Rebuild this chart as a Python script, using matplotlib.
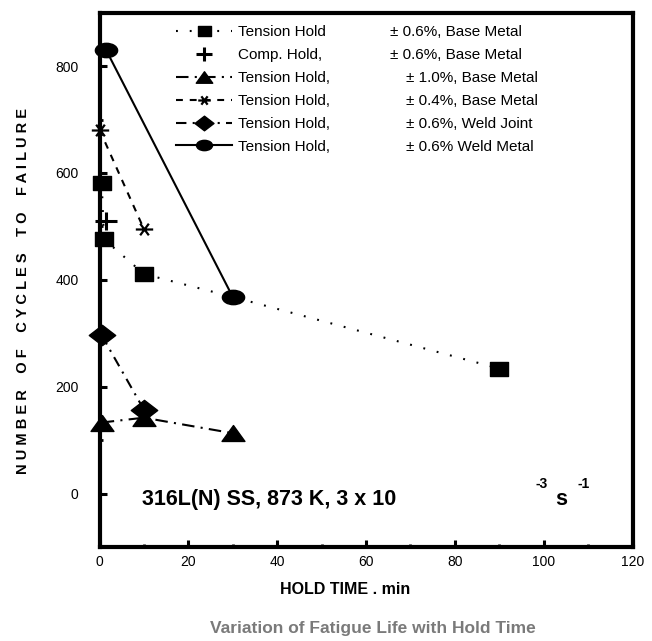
import matplotlib
matplotlib.use('Agg')
import matplotlib.pyplot as plt
from matplotlib.path import Path
from matplotlib.lines import Line2D

plt.rcParams['font.family'] = ['Liberation Sans', 'DejaVu Sans']

# tension hold, +-0.6%, base metal (squares); the 30 min point sits under the weld metal circle
tb06_time = [0.5, 1, 10, 30, 90]
tb06_cycles = [582, 476, 411, 368, 234]
# compression hold, +-0.6%, base metal
cb06_time = [1.5]
cb06_cycles = [511]
# tension hold, +-1.0%, base metal
tb10_time = [0.5, 10, 30]
tb10_cycles = [133, 142, 113]
# tension hold, +-0.4%, base metal
tb04_time = [0, 10]
tb04_cycles = [681, 495]
# tension hold, +-0.6%, weld joint
wj06_time = [0.5, 10]
wj06_cycles = [296, 157]
# tension hold, +-0.6%, weld metal
wm06_time = [1.5, 30]
wm06_cycles = [830, 368]

col1_labels = ['Tension Hold', 'Comp. Hold,', 'Tension Hold,', 'Tension Hold,',
               'Tension Hold,', 'Tension Hold,']
col2_labels = ['\u00b1 0.6%, Base Metal', '\u00b1 0.6%, Base Metal', '\u00b1 1.0%, Base Metal',
               '\u00b1 0.4%, Base Metal', '\u00b1 0.6%, Weld Joint', '\u00b1 0.6% Weld Metal']

M, L, C = Path.MOVETO, Path.LINETO, Path.CLOSEPOLY
# the source picture is stretched sideways, so are its markers
SQUARE = Path([(-1.3, -1), (1.3, -1), (1.3, 1), (-1.3, 1), (-1.3, -1)], [M, L, L, L, C])
_uc = Path.unit_circle()
CIRCLE = Path(_uc.vertices * [1.55, 1.0], _uc.codes)
DIAMOND = Path([(0, -1), (1.3, 0), (0, 1), (-1.3, 0), (0, -1)], [M, L, L, L, C])
TRIANGLE = Path([(-1.44, -1), (1.44, -1), (0, 1), (-1.44, -1)], [M, L, L, C])
PLUS = Path([(-1.2, 0), (1.2, 0), (0, -1), (0, 1)], [M, L, M, L])
ASTER = Path([(-1.3, 0), (1.3, 0), (-0.65, -0.87), (0.65, 0.87), (-0.65, 0.87), (0.65, -0.87)],
             [M, L, M, L, M, L])

W, H = 652, 641
fig = plt.figure(figsize=(W / 100, H / 100), dpi=100)
ax = fig.add_axes([99.5 / W, 1 - 547 / H, 533 / W, 534.3 / H])

styles = [
    dict(ls=(0, (0.9, 5.7)), marker=SQUARE, ms=13),
    dict(ls='none', marker=PLUS, ms=16, mew=2.2, mfc='none'),
    dict(ls=(0, (6, 3, 1, 3)), marker=TRIANGLE, ms=16.5),
    dict(ls=(0, (3.3, 3.3)), marker=ASTER, ms=12.5, mew=1.6, mfc='none'),
    dict(ls=(0, (5, 3, 1, 3)), marker=DIAMOND, ms=19),
    dict(ls='-', marker=CIRCLE, ms=16),
]

series = [(tb06_time, tb06_cycles), (cb06_time, cb06_cycles), (tb10_time, tb10_cycles),
          (tb04_time, tb04_cycles), (wj06_time, wj06_cycles), (wm06_time, wm06_cycles)]

for i, ((x, y), st) in enumerate(zip(series, styles)):
    st = dict(st)
    mk = dict(marker=st.pop('marker'), ms=st.pop('ms'), mew=st.pop('mew', 1),
              mfc=st.pop('mfc', 'black'), mec='black')
    ls = st.pop('ls')
    if ls != 'none':
        ax.plot(x, y, ls=ls, color='black', lw=1.5, clip_on=False, zorder=3)
    if i == 0:
        # no square drawn at the 30 min point
        ax.plot([v for k, v in enumerate(x) if k != 3], [v for k, v in enumerate(y) if k != 3],
                ls='none', clip_on=False, zorder=4, **mk)
    else:
        ax.plot(x, y, ls='none', clip_on=False, zorder=4, **mk)

handles = []
for st in styles:
    st = dict(st)
    handles.append(Line2D([], [], color='black', lw=1.5, ls=st.pop('ls'), marker=st.pop('marker'),
                          ms=st.pop('ms'), mew=st.pop('mew', 1), mfc=st.pop('mfc', 'black'),
                          mec='black'))

leg = ax.legend(handles, col1_labels, loc='upper left', bbox_to_anchor=(176 / W, 1 - 25.5 / H),
                bbox_transform=fig.transFigure, frameon=False, fontsize=11, handlelength=3.66,
                handletextpad=0.4, borderpad=0, borderaxespad=0, labelspacing=0.58,
                markerscale=0.72)

ax.set_xlim(0, 120)
ax.set_ylim(-100, 900)
ax.set_xticks(range(0, 121, 20))
ax.set_xticks(range(10, 120, 20), minor=True)
ax.set_yticks(range(0, 801, 200))
ax.set_yticks([100, 300, 500, 700], minor=True)
ax.tick_params(which='both', direction='in', top=False, right=False, labelsize=10)
ax.tick_params(which='major', length=5, width=2.2)
ax.tick_params(which='minor', length=2.5, width=2)
ax.tick_params(axis='y', pad=15)
ax.tick_params(axis='x', pad=6)
for sp in ax.spines.values():
    sp.set_linewidth(3)

fig.text(23 / W, 1 - 291.5 / H,
         'N U M B E R    O F    C Y C L E S    T O    F A I L U R E',
         rotation=90, ha='center', va='center', fontsize=10.5, fontweight='bold')
fig.text(345.5 / W, 1 - 590 / H, 'HOLD TIME . min', ha='center', va='center',
         fontsize=11.5, fontweight='bold')
fig.text(373 / W, 1 - 629 / H, 'Variation of Fatigue Life with Hold Time', ha='center',
         va='center', fontsize=12.5, fontweight='bold', color='#7a7a7a')

fig.text(141.7 / W, 1 - 505 / H, '316L(N) SS, 873 K, 3 x 10', ha='left', va='baseline',
         fontsize=15.5, fontweight='bold')
fig.text(535 / W, 1 - 488 / H, '-3', ha='left', va='baseline', fontsize=10, fontweight='bold')
fig.text(555 / W, 1 - 505 / H, 's', ha='left', va='baseline', fontsize=15.5, fontweight='bold')
fig.text(577 / W, 1 - 488 / H, '-1', ha='left', va='baseline', fontsize=10, fontweight='bold')

# second legend column, lined up with the legend rows
fig.canvas.draw()
col2_x = [390, 390, 406, 406, 406, 406]
for txt, lab, x in zip(leg.get_texts(), col2_labels, col2_x):
    bb = txt.get_window_extent()
    fig.text(x / W, (bb.y0 + bb.y1) / 2 / H, lab, ha='left', va='center', fontsize=11)

fig.savefig('out.png', dpi=100)
